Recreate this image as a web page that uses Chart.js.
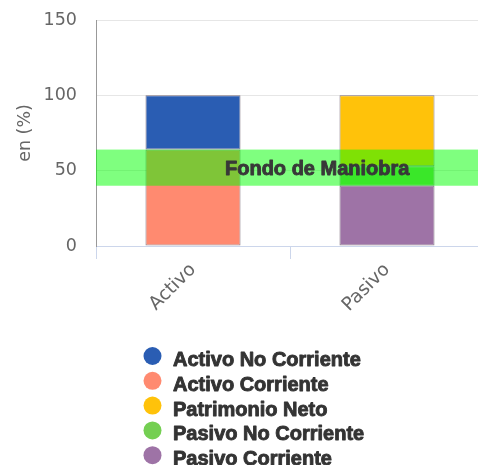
<!DOCTYPE html>
<html>
<head>
<meta charset="utf-8">
<script src="https://cdn.jsdelivr.net/npm/chart.js@4/dist/chart.umd.min.js"></script>
<style>
  html, body { margin: 0; padding: 0; background: #fff; overflow: hidden; }
</style>
</head>
<body>
<canvas id="balance-chart" width="484" height="465"></canvas>
<script>
// data
const categories = ['Activo', 'Pasivo'];
const activoNoCorriente = [36, null];
const activoCorriente = [64, null];
const patrimonioNeto = [null, 47];
const pasivoNoCorriente = [null, 13];
const pasivoCorriente = [null, 40];
const fondoManiobra = [40, 64];   // band: from pasivo corriente up to activo corriente
const fondoLabel = 'Fondo de Maniobra';
const yTicks = [0, 50, 100, 150];
const legendOrder = ['Activo No Corriente', 'Activo Corriente', 'Patrimonio Neto', 'Pasivo No Corriente', 'Pasivo Corriente'];

const tickFont = { family: 'DejaVu Sans', size: 17.5 };
const boldFont = 'bold 20px "Liberation Sans", Arial, sans-serif';

function heavyText(ctx, text, x, y) {
    ctx.lineWidth = 0.9;
    ctx.strokeStyle = ctx.fillStyle;
    ctx.lineJoin = 'round';
    ctx.strokeText(text, x, y);
    ctx.fillText(text, x, y);
}

// band + label drawn over the bars
const bandPlugin = {
    id: 'band',
    afterDatasetsDraw(chart) {
        const { ctx, chartArea, scales: { y } } = chart;
        const top = y.getPixelForValue(fondoManiobra[1]);
        const bottom = y.getPixelForValue(fondoManiobra[0]);
        ctx.save();
        ctx.fillStyle = 'rgba(0, 255, 0, 0.5)';
        ctx.fillRect(chartArea.left, top, chartArea.right - chartArea.left, bottom - top);
        ctx.font = boldFont;
        ctx.fillStyle = '#383838';
        ctx.textAlign = 'left';
        ctx.textBaseline = 'middle';
        heavyText(ctx, fondoLabel, chartArea.left + 129, (top + bottom) / 2 + 1.5);
        ctx.restore();
    }
};

// vertical legend with round markers
const legendPlugin = {
    id: 'vlegend',
    afterDraw(chart) {
        const { ctx } = chart;
        ctx.save();
        ctx.font = boldFont;
        ctx.textBaseline = 'middle';
        ctx.textAlign = 'left';
        legendOrder.forEach((name, i) => {
            const ds = chart.data.datasets.find(d => d.label === name);
            const cy = 356 + i * 24.8;
            ctx.beginPath();
            ctx.arc(152.5, cy, 9, 0, Math.PI * 2);
            ctx.fillStyle = ds.backgroundColor;
            ctx.fill();
            ctx.fillStyle = '#333333';
            heavyText(ctx, name, 173, cy + 4.5);
        });
        ctx.restore();
    }
};

const ctx = document.getElementById('balance-chart').getContext('2d');
const myChart = new Chart(ctx, {
    type: 'bar',
    data: {
        labels: categories,
        datasets: [
            { label: 'Activo Corriente', data: activoCorriente, backgroundColor: '#ff8a70' },
            { label: 'Activo No Corriente', data: activoNoCorriente, backgroundColor: '#2a5db3' },
            { label: 'Pasivo Corriente', data: pasivoCorriente, backgroundColor: '#9e73a6' },
            { label: 'Pasivo No Corriente', data: pasivoNoCorriente, backgroundColor: '#74cf52' },
            { label: 'Patrimonio Neto', data: patrimonioNeto, backgroundColor: '#ffc20a' }
        ].map(d => Object.assign(d, {
            borderColor: 'rgba(60, 40, 60, 0.6)',
            borderWidth: 1,
            borderSkipped: false,
            categoryPercentage: 1,
            barPercentage: 0.49
        }))
    },
    options: {
        responsive: false,
        animation: false,
        layout: { padding: { top: 0, right: 0, bottom: 0, left: 0 } },
        plugins: {
            legend: { display: false },
            tooltip: { enabled: false }
        },
        scales: {
            x: {
                stacked: true,
                offset: true,
                grid: {
                    offset: true,
                    drawOnChartArea: false,
                    drawTicks: true,
                    tickLength: 13,
                    color: '#ccd6eb'
                },
                border: { color: '#ccd6eb', width: 1 },
                ticks: {
                    color: '#666666',
                    font: { family: 'DejaVu Sans', size: 18.5 },
                    minRotation: 45,
                    maxRotation: 45,
                    padding: 0
                },
                afterFit(scale) { scale.height = 219; }
            },
            y: {
                stacked: true,
                min: 0,
                max: 150,
                afterBuildTicks(scale) { scale.ticks = yTicks.map(v => ({ value: v })); },
                grid: { color: '#e6e6e6', drawTicks: false },
                border: { color: '#999999', width: 1 },
                ticks: {
                    color: '#666666',
                    font: tickFont,
                    padding: 19
                },
                title: {
                    display: true,
                    text: 'en (%)',
                    color: '#666666',
                    font: tickFont,
                    padding: { top: 15, bottom: 0 }
                },
                afterFit(scale) {
                    scale.width = 96;
                    scale.paddingTop = 20;
                    scale.paddingBottom = 0;
                }
            }
        }
    },
    plugins: [bandPlugin, legendPlugin]
});
</script>
</body>
</html>
